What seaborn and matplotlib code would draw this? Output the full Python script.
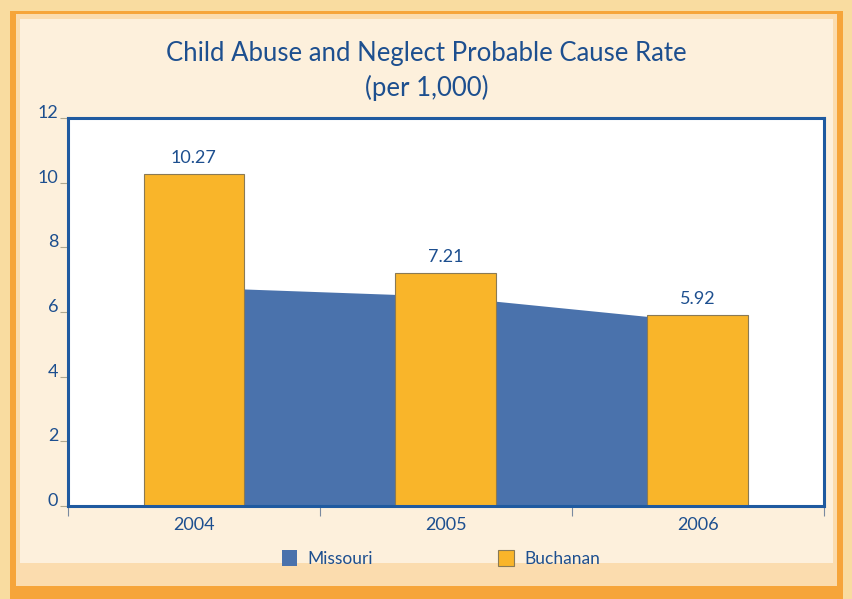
import matplotlib
matplotlib.use("Agg")
import matplotlib.pyplot as plt
import matplotlib.patches as mpatches
import seaborn as sns
import numpy as np
import pandas as pd

years = ["2004", "2005", "2006"]
buchanan = [10.27, 7.21, 5.92]
missouri = [6.77, 6.49, 5.71]
bar_labels = ["10.27", "7.21", "5.92"]

text_blue = "#1d4f8f"
frame_blue = "#1f5aa0"
gold = "#f9b52a"
mo_blue = "#4a72ac"

sns.set_style("white")
plt.rcParams["font.family"] = ["Lato", "DejaVu Sans"]

fig = plt.figure(figsize=(8.53, 5.99), dpi=100)
fig.patch.set_facecolor("#f9dca0")

# page border: orange band and beige interior
fig.patches.append(mpatches.Rectangle((0.012, 0.0), 0.976, 0.982, transform=fig.transFigure,
                                      facecolor="#f6a53a", edgecolor="none", zorder=-10))
fig.patches.append(mpatches.Rectangle((0.019, 0.022), 0.962, 0.954, transform=fig.transFigure,
                                      facecolor="#fbdcae", edgecolor="none", zorder=-9))
fig.patches.append(mpatches.Rectangle((0.023, 0.06), 0.954, 0.908, transform=fig.transFigure,
                                      facecolor="#fdf0dc", edgecolor="none", zorder=-8))

ax = fig.add_axes([0.0797, 0.155, 0.886, 0.648])
ax.set_zorder(1)
ax.set_facecolor("white")

df = pd.DataFrame({"year": years, "Buchanan": buchanan, "Missouri": missouri})

pos = np.arange(len(years))
ax.fill_between(pos, df["Missouri"], 0, color=mo_blue, linewidth=0, zorder=1)
sns.barplot(data=df, x="year", y="Buchanan", color=gold, width=0.4, saturation=1,
            edgecolor="#8a7a55", linewidth=0.8, ax=ax, zorder=2)

for i, v in enumerate(buchanan):
    ax.text(i, v + 0.25, bar_labels[i], ha="center", va="bottom", fontsize=13, color=text_blue)

ax.set_xlim(-0.5, 2.5)
ax.set_ylim(0, 12)
ax.set_yticks([0, 2, 4, 6, 8, 10, 12])
ax.set_xticks(pos)
ax.set_xticks([-0.5, 0.5, 1.5, 2.5], minor=True)
ax.tick_params(axis="x", which="major", length=0, labelsize=13, labelcolor=text_blue, pad=8)
ax.tick_params(axis="x", which="minor", length=7, width=0.8, color="#7a8aa0", direction="out", bottom=True)
ax.tick_params(axis="y", length=6, width=0.8, color="#b0a890", direction="out", left=True,
               labelsize=13, labelcolor=text_blue, pad=1)
for lab in ax.get_yticklabels():
    lab.set_va("baseline")
ax.set_xlabel("")
ax.set_ylabel("")
for s in ax.spines.values():
    s.set_visible(True)
    s.set_color(frame_blue)
    s.set_linewidth(2.2)

fig.text(0.5, 0.91, "Child Abuse and Neglect Probable Cause Rate", ha="center", va="center",
         fontsize=18.5, color=text_blue)
fig.text(0.5, 0.853, "(per 1,000)", ha="center", va="center", fontsize=18.5, color=text_blue)

handles = [mpatches.Patch(facecolor=mo_blue, edgecolor="none", label="Missouri"),
           mpatches.Patch(facecolor=gold, edgecolor="#8a7a55", linewidth=0.8, label="Buchanan")]
leg = fig.legend(handles=handles, loc="center", bbox_to_anchor=(0.517, 0.068), ncol=2, frameon=False,
                 fontsize=12.5, handlelength=0.9, handleheight=1.1, columnspacing=7.2, handletextpad=0.6)
for t in leg.get_texts():
    t.set_color(text_blue)

fig.savefig("out.png", dpi=100, facecolor=fig.get_facecolor())
